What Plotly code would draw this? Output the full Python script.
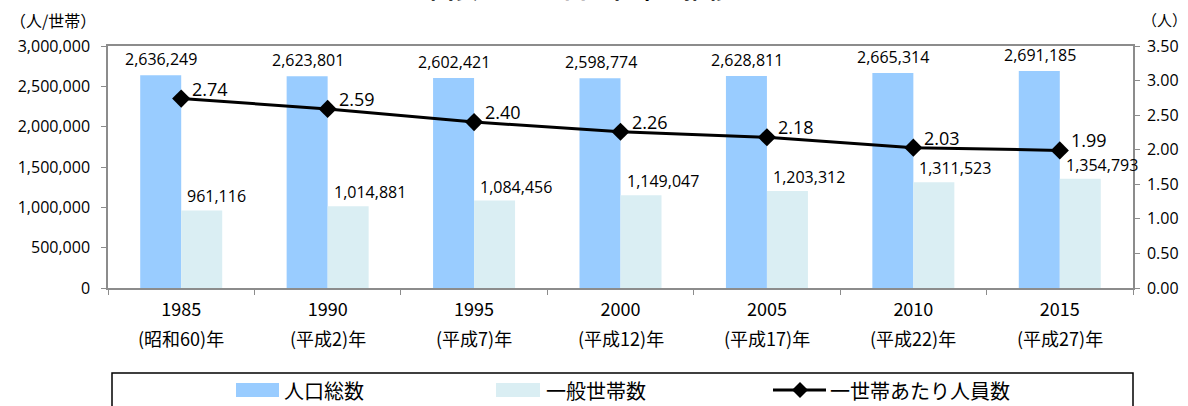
import plotly.graph_objects as go

years = ["1985", "1990", "1995", "2000", "2005", "2010", "2015"]
eras = ["(昭和60)年", "(平成2)年", "(平成7)年", "(平成12)年", "(平成17)年", "(平成22)年", "(平成27)年"]
population = [2636249, 2623801, 2602421, 2598774, 2628811, 2665314, 2691185]
households = [961116, 1014881, 1084456, 1149047, 1203312, 1311523, 1354793]
per_household = [2.74, 2.59, 2.40, 2.26, 2.18, 2.03, 1.99]

names = ["人口総数", "一般世帯数", "一世帯あたり人員数"]
c_pop = "#99CCFF"
c_hh = "#DAEEF3"
FONT = "Noto Sans CJK JP"
NUMFONT = "Open Sans"

W, H = 1188, 406
L, R, T, B = 108, 55, 46, 118
PW, PH = W - L - R, H - T - B


def px(xp):
    return (xp - L) / PW


def py(yp):
    return (H - B - yp) / PH


fig = go.Figure()
fig.add_trace(go.Bar(x=years, y=population, name=names[0], marker_color=c_pop,
                     marker_line_width=0, showlegend=False))
fig.add_trace(go.Bar(x=years, y=households, name=names[1], marker_color=c_hh,
                     marker_line_width=0, showlegend=False))
fig.add_trace(go.Scatter(x=years, y=per_household, name=names[2], yaxis="y2",
                         mode="lines+markers", line=dict(color="black", width=3),
                         marker=dict(symbol="diamond", size=14, color="black"),
                         showlegend=False))

ann = []
for i, y in enumerate(years):
    ann.append(dict(x=i, y=population[i], xref="x", yref="y", text=f"{population[i]:,}",
                    showarrow=False, xanchor="center", yanchor="bottom", xshift=-20, yshift=3,
                    font=dict(family=NUMFONT, size=16, color="black")))
    ann.append(dict(x=i, y=households[i], xref="x", yref="y", text=f"{households[i]:,}",
                    showarrow=False, xanchor="left", yanchor="bottom", xshift=4, yshift=1,
                    font=dict(family=NUMFONT, size=16, color="black")))
    ann.append(dict(x=i, y=per_household[i], xref="x", yref="y2", text=f"{per_household[i]:.2f}",
                    showarrow=False, xanchor="left", yanchor="middle", xshift=9, yshift=10,
                    font=dict(family=NUMFONT, size=18, color="black")))
    ann.append(dict(x=i, y=0, xref="x", yref="paper", text=eras[i], showarrow=False,
                    xanchor="center", yanchor="middle", yshift=-50,
                    font=dict(family=FONT, size=18, color="black")))

# axis unit labels
ann.append(dict(x=px(8), y=py(20), xref="paper", yref="paper", text="（人/世帯）",
                showarrow=False, xanchor="left", yanchor="middle",
                font=dict(family=FONT, size=16, color="black")))
ann.append(dict(x=px(1140), y=py(20), xref="paper", yref="paper", text="（人）",
                showarrow=False, xanchor="left", yanchor="middle",
                font=dict(family=FONT, size=15, color="black")))
# clipped title
ann.append(dict(x=px(428), y=py(-12), xref="paper", yref="paper", text="<b>図表2-1　人口と世帯の推移</b>",
                showarrow=False, xanchor="left", yanchor="middle",
                font=dict(family=FONT, size=24, color="black")))

# manual legend
shapes = [
    dict(type="rect", xref="paper", yref="paper", x0=px(112), x1=px(1133), y0=py(373), y1=py(440),
         line=dict(color="black", width=1.5), fillcolor="rgba(0,0,0,0)"),
    dict(type="rect", xref="paper", yref="paper", x0=px(236), x1=px(279), y0=py(383), y1=py(397),
         line=dict(width=0), fillcolor=c_pop),
    dict(type="rect", xref="paper", yref="paper", x0=px(496), x1=px(540), y0=py(383), y1=py(397),
         line=dict(width=0), fillcolor=c_hh),
    dict(type="line", xref="paper", yref="paper", x0=px(773), x1=px(826), y0=py(390), y1=py(390),
         line=dict(color="black", width=3)),
    dict(type="path", xref="paper", yref="paper",
         path=f"M {px(792)} {py(390)} L {px(800)} {py(382)} L {px(808)} {py(390)} L {px(800)} {py(398)} Z",
         fillcolor="black", line=dict(color="black", width=0)),
]
for xp, t in [(282, names[0]), (544, names[1]), (828, names[2])]:
    ann.append(dict(x=px(xp), y=py(390), xref="paper", yref="paper", text=t, showarrow=False,
                    xanchor="left", yanchor="middle", font=dict(family=FONT, size=20, color="black")))

fig.update_layout(
    width=W, height=H, margin=dict(l=L, r=R, t=T, b=B, autoexpand=False),
    paper_bgcolor="white", plot_bgcolor="white",
    barmode="group", bargap=0.44, bargroupgap=0,
    annotations=ann, shapes=shapes, showlegend=False,
    xaxis=dict(type="category", categoryorder="array", categoryarray=years,
               range=[-0.5, len(years) - 0.5], autorange=False,
               tickvals=years, ticktext=years,
               showline=True, linecolor="#8c8c8c", linewidth=1.5, mirror=True,
               ticks="outside", tickson="boundaries", ticklen=5, tickcolor="#8c8c8c",
               ticklabelstandoff=5,
               tickfont=dict(family=FONT, size=18, color="black"), showgrid=False),
    yaxis=dict(range=[0, 3000000], dtick=500000, tickformat=",", showgrid=False,
               showline=True, linecolor="#8c8c8c", linewidth=1.5, mirror=True,
               ticks="outside", ticklen=5, tickcolor="#8c8c8c", ticklabelstandoff=8,
               tickfont=dict(family=NUMFONT, size=16, color="black"), zeroline=False),
    yaxis2=dict(range=[0, 3.5], dtick=0.5, tickformat=".2f", overlaying="y", side="right",
                showline=True, linecolor="#8c8c8c", linewidth=1.5, showgrid=False,
                ticks="outside", ticklen=5, tickcolor="#8c8c8c", ticklabelstandoff=4,
                tickfont=dict(family=NUMFONT, size=16, color="black"), zeroline=False),
)

fig.write_html("out.html")
